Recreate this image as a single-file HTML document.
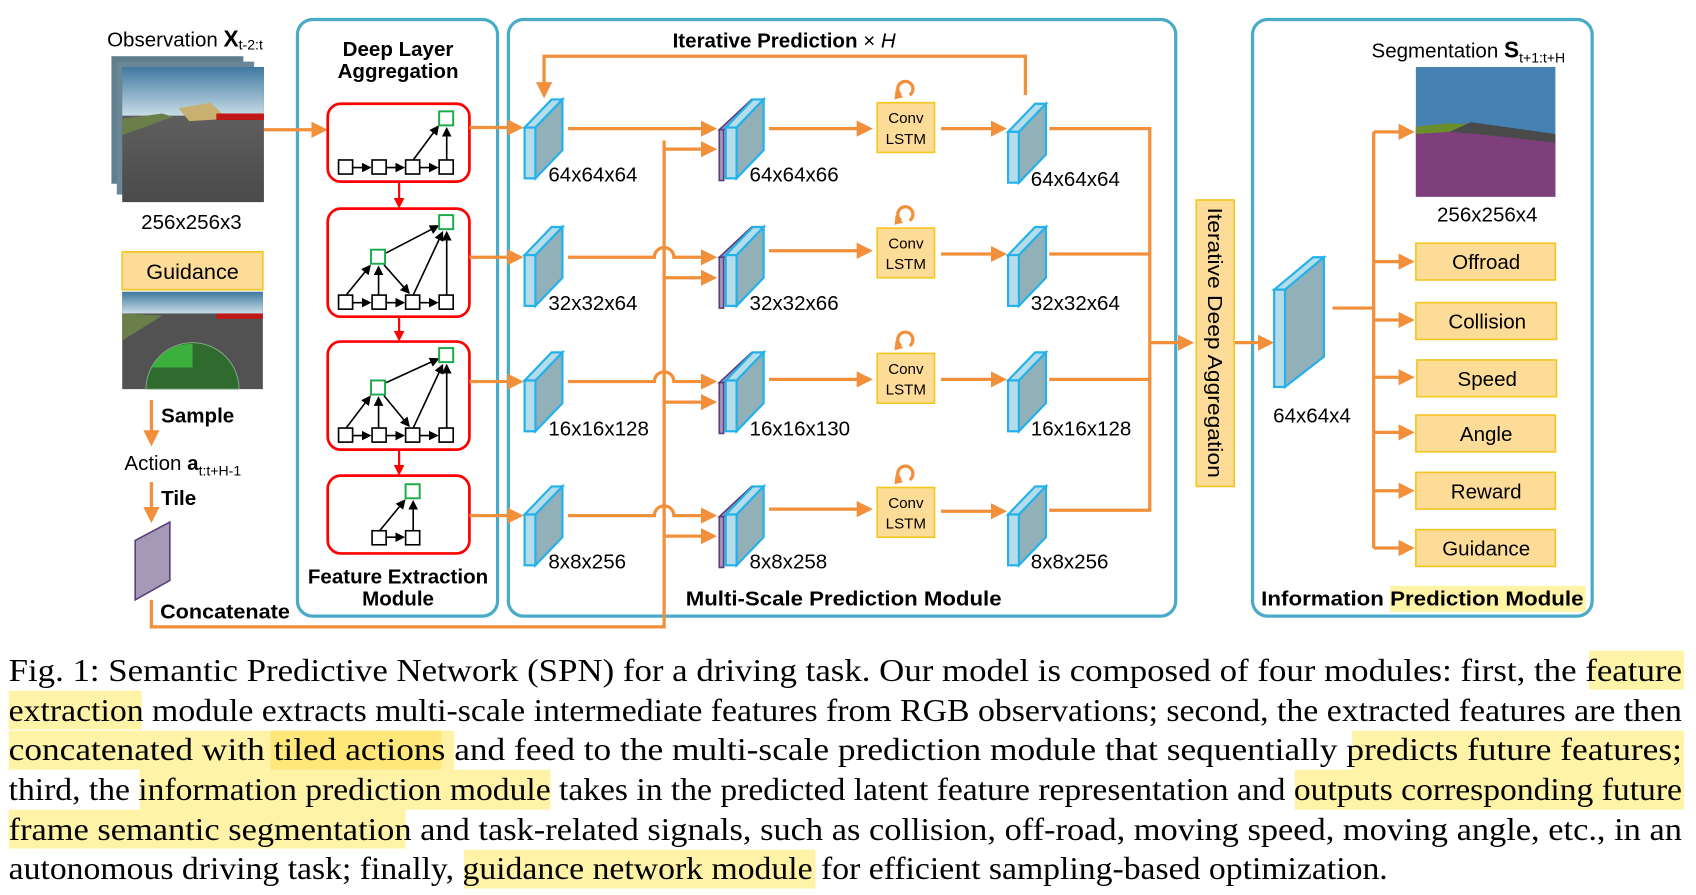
<!DOCTYPE html>
<html><head><meta charset="utf-8"><style>
html,body{margin:0;padding:0;background:#fff;}
svg{display:block;}
.s{font-family:"Liberation Sans","DejaVu Sans",sans-serif;}
.b{font-weight:bold;}
.c{font-family:"Liberation Serif",serif;font-size:29px;fill:#000;}
</style></head><body>
<svg width="1696" height="895" viewBox="0 0 1568 828" preserveAspectRatio="none" xmlns="http://www.w3.org/2000/svg">
<defs>
<marker id="ao" markerWidth="5" markerHeight="5" refX="4" refY="2.5" orient="auto" markerUnits="strokeWidth"><path d="M0,0 L5,2.5 L0,5 z" fill="#f28f3b"/></marker>
<marker id="ar" markerWidth="5" markerHeight="5" refX="4" refY="2.5" orient="auto" markerUnits="strokeWidth"><path d="M0,0 L5,2.5 L0,5 z" fill="#ff0000"/></marker>
<marker id="ak" markerWidth="6" markerHeight="6" refX="5" refY="3" orient="auto" markerUnits="strokeWidth"><path d="M0,0 L6,3 L0,6 z" fill="#000"/></marker>
<linearGradient id="sky" x1="0" y1="0" x2="0" y2="1"><stop offset="0" stop-color="#3f79a0"/><stop offset="1" stop-color="#c8dce6"/></linearGradient>
<linearGradient id="road" x1="0" y1="0" x2="0" y2="1"><stop offset="0" stop-color="#6a6a6a"/><stop offset="1" stop-color="#4a4a4a"/></linearGradient>
<g id="fm">
<polygon points="0,26 25,0 35,0 10,26" fill="#b6dcea" stroke="#22b1ea" stroke-width="2"/>
<polygon points="10,26 35,0 35,47 10,73" fill="#92b0b8" stroke="#22b1ea" stroke-width="2"/>
<rect x="0" y="26" width="10" height="47" fill="#b6dcea" stroke="#22b1ea" stroke-width="2"/>
</g>
<g id="fm2">
<polygon points="0,28 30,0 34,0 4,28" fill="#a896c0" stroke="#5a3d7a" stroke-width="1.5"/>
<rect x="0" y="28" width="4" height="47" fill="#a896c0" stroke="#5a3d7a" stroke-width="1.5"/>
<g transform="translate(6,0)"><use href="#fm"/></g>
</g>
<g id="lstm">
<rect x="0" y="0" width="53" height="46" fill="#fddc98" stroke="#f5c520" stroke-width="1.5"/>
<text x="26.5" y="19" font-size="14" text-anchor="middle" class="s">Conv</text>
<text x="26.5" y="38" font-size="14" text-anchor="middle" class="s">LSTM</text>
<path d="M22,-7 A7,7 0 1 1 30,-7" fill="none" stroke="#f28f3b" stroke-width="3"/>
<path d="M17,-12 L24,-5 L16,-3 z" fill="#f28f3b"/>
</g>
</defs>

<g fill="none" stroke="#4aabc8" stroke-width="3">
<rect x="275" y="18" width="185" height="552" rx="14"/>
<rect x="470" y="18" width="617" height="552" rx="14"/>
<rect x="1158" y="18" width="314" height="552" rx="14"/>
</g>

<text x="99" y="43" font-size="19" class="s">Observation <tspan class="b" font-size="21">X</tspan><tspan font-size="13" dy="3">t-2:t</tspan></text>
<rect x="103" y="52" width="122" height="118" fill="#5f7f8f"/>
<rect x="108" y="57" width="127" height="123" fill="#6b8797"/>
<rect x="113" y="62" width="131" height="125" fill="url(#road)"/>
<rect x="113" y="62" width="131" height="45" fill="url(#sky)"/>
<polygon points="113,110 150,105 160,108 113,125" fill="#6b7f4a"/>
<polygon points="165,100 195,95 210,110 175,112" fill="#c8b070"/>
<rect x="200" y="105" width="44" height="6" fill="#c01818"/>
<text x="177" y="212" font-size="19" text-anchor="middle" class="s">256x256x3</text>
<rect x="113" y="233" width="130" height="35" fill="#fddc98" stroke="#f5c520" stroke-width="1.5"/>
<text x="178" y="258" font-size="20" text-anchor="middle" class="s">Guidance</text>
<rect x="113" y="270" width="130" height="90" fill="#525252"/>
<rect x="113" y="270" width="130" height="20" fill="url(#sky)"/>
<polygon points="113,290 150,292 113,315" fill="#6b7f4a"/>
<rect x="200" y="290" width="43" height="5" fill="#c01818"/>
<path d="M135,360 A43,43 0 0 1 221,360 z" fill="#2f6a2f" stroke="#8fb08f" stroke-width="0.8"/>
<path d="M140,340 A43,43 0 0 1 178,318 L178,340 z" fill="#3cb03c"/>
<line x1="140" y1="370" x2="140" y2="410" stroke="#f28f3b" stroke-width="3" marker-end="url(#ao)"/>
<text x="149" y="391" font-size="19" class="s b">Sample</text>
<text x="115" y="435" font-size="19" class="s">Action <tspan class="b">a</tspan><tspan font-size="13" dy="5">t:t+H-1</tspan></text>
<line x1="140" y1="446" x2="140" y2="481" stroke="#f28f3b" stroke-width="3" marker-end="url(#ao)"/>
<text x="149" y="467" font-size="19" class="s b">Tile</text>
<polygon points="125,500 157,483 157,537 125,555" fill="#a49ab8" stroke="#5a3d7a" stroke-width="1.5"/>
<text x="148" y="572" font-size="19" class="s b" textLength="120" lengthAdjust="spacingAndGlyphs">Concatenate</text>
<polyline points="140,555 140,580 614,580 614,130" fill="none" stroke="#f28f3b" stroke-width="3"/>
<line x1="244" y1="120" x2="300" y2="120" stroke="#f28f3b" stroke-width="3" marker-end="url(#ao)"/>

<text x="368" y="52" font-size="19" text-anchor="middle" class="s b">Deep Layer</text>
<text x="368" y="72" font-size="19" text-anchor="middle" class="s b">Aggregation</text>
<g fill="none" stroke="#ff0000" stroke-width="2.5">
<rect x="303" y="96" width="131" height="72" rx="12"/>
<rect x="303" y="193" width="131" height="100" rx="12"/>
<rect x="303" y="316" width="131" height="100" rx="12"/>
<rect x="303" y="440" width="131" height="72" rx="12"/>
</g>
<g stroke="#ff0000" stroke-width="2">
<line x1="369" y1="168" x2="369" y2="191" marker-end="url(#ar)"/>
<line x1="369" y1="293" x2="369" y2="314" marker-end="url(#ar)"/>
<line x1="369" y1="416" x2="369" y2="438" marker-end="url(#ar)"/>
</g>
<g stroke="#000" stroke-width="1.5" fill="#fff">
<rect x="313" y="148" width="13" height="13"/><rect x="344" y="148" width="13" height="13"/><rect x="375" y="148" width="13" height="13"/><rect x="406" y="148" width="13" height="13"/>
<line x1="326" y1="155" x2="342" y2="155" marker-end="url(#ak)"/><line x1="357" y1="155" x2="373" y2="155" marker-end="url(#ak)"/><line x1="388" y1="155" x2="404" y2="155" marker-end="url(#ak)"/>
<line x1="382" y1="148" x2="405" y2="117" marker-end="url(#ak)"/><line x1="413" y1="148" x2="413" y2="119" marker-end="url(#ak)"/>
<rect x="313" y="273" width="13" height="13"/><rect x="344" y="273" width="13" height="13"/><rect x="375" y="273" width="13" height="13"/><rect x="406" y="273" width="13" height="13"/>
<line x1="326" y1="280" x2="342" y2="280" marker-end="url(#ak)"/><line x1="357" y1="280" x2="373" y2="280" marker-end="url(#ak)"/><line x1="388" y1="280" x2="404" y2="280" marker-end="url(#ak)"/>
<line x1="320" y1="273" x2="342" y2="246" marker-end="url(#ak)"/><line x1="350" y1="273" x2="350" y2="247" marker-end="url(#ak)"/><line x1="355" y1="245" x2="378" y2="271" marker-end="url(#ak)"/>
<line x1="357" y1="234" x2="405" y2="209" marker-end="url(#ak)"/><line x1="382" y1="273" x2="409" y2="215" marker-end="url(#ak)"/><line x1="413" y1="273" x2="413" y2="215" marker-end="url(#ak)"/>
<rect x="313" y="396" width="13" height="13"/><rect x="344" y="396" width="13" height="13"/><rect x="375" y="396" width="13" height="13"/><rect x="406" y="396" width="13" height="13"/>
<line x1="326" y1="403" x2="342" y2="403" marker-end="url(#ak)"/><line x1="357" y1="403" x2="373" y2="403" marker-end="url(#ak)"/><line x1="388" y1="403" x2="404" y2="403" marker-end="url(#ak)"/>
<line x1="320" y1="396" x2="342" y2="367" marker-end="url(#ak)"/><line x1="350" y1="396" x2="350" y2="368" marker-end="url(#ak)"/><line x1="355" y1="366" x2="378" y2="394" marker-end="url(#ak)"/>
<line x1="357" y1="354" x2="405" y2="332" marker-end="url(#ak)"/><line x1="382" y1="396" x2="409" y2="338" marker-end="url(#ak)"/><line x1="413" y1="396" x2="413" y2="338" marker-end="url(#ak)"/>
<rect x="344" y="491" width="13" height="13"/><rect x="375" y="491" width="13" height="13"/>
<line x1="357" y1="497" x2="373" y2="497" marker-end="url(#ak)"/>
<line x1="351" y1="491" x2="374" y2="463" marker-end="url(#ak)"/><line x1="382" y1="491" x2="382" y2="464" marker-end="url(#ak)"/>
</g>
<g fill="#fff" stroke="#1aaa4a" stroke-width="1.8">
<rect x="406" y="103" width="13" height="13"/>
<rect x="406" y="199" width="13" height="13"/><rect x="343" y="231" width="13" height="13"/>
<rect x="406" y="322" width="13" height="13"/><rect x="343" y="352" width="13" height="13"/>
<rect x="375" y="448" width="13" height="13"/>
</g>
<text x="368" y="540" font-size="19" text-anchor="middle" class="s b">Feature Extraction</text>
<text x="368" y="560" font-size="19" text-anchor="middle" class="s b">Module</text>

<text x="725" y="44" font-size="19" text-anchor="middle" class="s b">Iterative Prediction <tspan font-weight="normal">× <tspan font-style="italic">H</tspan></tspan></text>
<polyline points="948,88 948,52 503,52 503,88" fill="none" stroke="#f28f3b" stroke-width="3" marker-end="url(#ao)"/>
<g stroke="#f28f3b" stroke-width="3" fill="none">
<line x1="434" y1="118" x2="481" y2="118" marker-end="url(#ao)"/>
<line x1="434" y1="238" x2="481" y2="238" marker-end="url(#ao)"/>
<line x1="434" y1="353" x2="481" y2="353" marker-end="url(#ao)"/>
<line x1="434" y1="477" x2="481" y2="477" marker-end="url(#ao)"/>
<line x1="525" y1="119" x2="660" y2="119" marker-end="url(#ao)"/>
<line x1="614" y1="138" x2="660" y2="138" marker-end="url(#ao)"/>
<path d="M525,238 L605,238 A9,9 0 0 1 623,238 L660,238" marker-end="url(#ao)"/>
<line x1="614" y1="257" x2="660" y2="257" marker-end="url(#ao)"/>
<path d="M525,353 L605,353 A9,9 0 0 1 623,353 L660,353" marker-end="url(#ao)"/>
<line x1="614" y1="372" x2="660" y2="372" marker-end="url(#ao)"/>
<path d="M525,477 L605,477 A9,9 0 0 1 623,477 L660,477" marker-end="url(#ao)"/>
<line x1="614" y1="496" x2="660" y2="496" marker-end="url(#ao)"/>
<line x1="711" y1="119" x2="804" y2="119" marker-end="url(#ao)"/>
<line x1="870" y1="119" x2="928" y2="119" marker-end="url(#ao)"/>
<line x1="711" y1="232" x2="804" y2="232" marker-end="url(#ao)"/>
<line x1="870" y1="235" x2="928" y2="235" marker-end="url(#ao)"/>
<line x1="711" y1="351" x2="804" y2="351" marker-end="url(#ao)"/>
<line x1="870" y1="351" x2="928" y2="351" marker-end="url(#ao)"/>
<line x1="711" y1="471" x2="804" y2="471" marker-end="url(#ao)"/>
<line x1="870" y1="473" x2="928" y2="473" marker-end="url(#ao)"/>
<polyline points="970,119 1063,119 1063,472 970,472"/>
<line x1="970" y1="235" x2="1063" y2="235"/>
<line x1="970" y1="351" x2="1063" y2="351"/>
<line x1="1063" y1="317" x2="1101" y2="317" marker-end="url(#ao)"/>
<line x1="1141" y1="317" x2="1175" y2="317" marker-end="url(#ao)"/>
</g>
<use href="#fm" x="485" y="92"/><use href="#fm" x="485" y="210"/><use href="#fm" x="485" y="326"/><use href="#fm" x="485" y="450"/>
<use href="#fm2" x="665" y="92"/><use href="#fm2" x="665" y="210"/><use href="#fm2" x="665" y="326"/><use href="#fm2" x="665" y="450"/>
<use href="#fm" x="932" y="96"/><use href="#fm" x="932" y="210"/><use href="#fm" x="932" y="326"/><use href="#fm" x="932" y="450"/>
<use href="#lstm" x="811" y="95"/><use href="#lstm" x="811" y="211"/><use href="#lstm" x="811" y="327"/><use href="#lstm" x="811" y="451"/>
<g font-size="19" class="s">
<text x="507" y="168">64x64x64</text><text x="693" y="168">64x64x66</text><text x="953" y="172">64x64x64</text>
<text x="507" y="287">32x32x64</text><text x="693" y="287">32x32x66</text><text x="953" y="287">32x32x64</text>
<text x="507" y="403">16x16x128</text><text x="693" y="403">16x16x130</text><text x="953" y="403">16x16x128</text>
<text x="507" y="526">8x8x256</text><text x="693" y="526">8x8x258</text><text x="953" y="526">8x8x256</text>
</g>
<text x="780" y="560" font-size="19" text-anchor="middle" class="s b" textLength="292" lengthAdjust="spacingAndGlyphs">Multi-Scale Prediction Module</text>
<rect x="1106" y="185" width="35" height="265" fill="#fddc98" stroke="#f5c520" stroke-width="1.5"/>
<text transform="translate(1117,192) rotate(90)" font-size="19" class="s" textLength="250" lengthAdjust="spacingAndGlyphs">Iterative Deep Aggregation</text>

<polygon points="1178,268 1214,238 1224,238 1188,268" fill="#b6dcea" stroke="#22b1ea" stroke-width="2"/>
<polygon points="1188,268 1224,238 1224,330 1188,358" fill="#92b0b8" stroke="#22b1ea" stroke-width="2"/>
<rect x="1178" y="268" width="10" height="90" fill="#b6dcea" stroke="#22b1ea" stroke-width="2"/>
<text x="1213" y="391" font-size="19" text-anchor="middle" class="s">64x64x4</text>
<text x="1268" y="53" font-size="19" class="s">Segmentation <tspan class="b" font-size="21">S</tspan><tspan font-size="13" dy="5">t+1:t+H</tspan></text>
<rect x="1309" y="62" width="129" height="120" fill="#4681b3"/>
<polygon points="1309,118 1340,117 1375,122 1438,128 1438,182 1309,182" fill="#7f3f7d"/>
<polygon points="1309,117 1340,114 1360,115 1340,122 1309,124" fill="#6a8f2a"/>
<polygon points="1340,122 1360,113 1438,124 1438,132 1375,125" fill="#4a4a4a"/>
<text x="1375" y="205" font-size="19" text-anchor="middle" class="s">256x256x4</text>
<g stroke="#f28f3b" stroke-width="3" fill="none">
<line x1="1232" y1="285" x2="1270" y2="285"/>
<line x1="1270" y1="122" x2="1270" y2="507"/>
<line x1="1270" y1="122" x2="1305" y2="122" marker-end="url(#ao)"/>
<line x1="1270" y1="242" x2="1305" y2="242" marker-end="url(#ao)"/>
<line x1="1270" y1="296" x2="1305" y2="296" marker-end="url(#ao)"/>
<line x1="1270" y1="349" x2="1305" y2="349" marker-end="url(#ao)"/>
<line x1="1270" y1="400" x2="1305" y2="400" marker-end="url(#ao)"/>
<line x1="1270" y1="454" x2="1305" y2="454" marker-end="url(#ao)"/>
<line x1="1270" y1="507" x2="1305" y2="507" marker-end="url(#ao)"/>
</g>
<g fill="#fddc98" stroke="#f5c520" stroke-width="1.5">
<rect x="1309" y="225" width="129" height="34"/><rect x="1309" y="280" width="130" height="34"/><rect x="1310" y="333" width="129" height="34"/>
<rect x="1309" y="384" width="129" height="34"/><rect x="1309" y="437" width="129" height="34"/><rect x="1309" y="490" width="129" height="34"/>
</g>
<g font-size="19" text-anchor="middle" class="s">
<text x="1374" y="249">Offroad</text><text x="1375" y="304">Collision</text><text x="1375" y="357">Speed</text>
<text x="1374" y="408">Angle</text><text x="1374" y="461">Reward</text><text x="1374" y="514">Guidance</text>
</g>
<rect x="1285" y="542" width="181" height="24" fill="#fff3a8"/>
<text x="1166" y="560" font-size="19" class="s b" textLength="298" lengthAdjust="spacingAndGlyphs">Information Prediction Module</text>

<g fill="#fff3a8">
<rect x="1469" y="602" width="88" height="36"/>
<rect x="8" y="639" width="123" height="36"/>
<rect x="8" y="676" width="412" height="36"/>
<rect x="1250" y="676" width="307" height="36"/>
<rect x="129" y="712" width="380" height="37"/>
<rect x="1197" y="712" width="360" height="37"/>
<rect x="8" y="749" width="367" height="36"/>
<rect x="429" y="786" width="325" height="36"/>
</g>
<rect x="250" y="676" width="158" height="36" fill="#ffe77a"/>
<g class="c">
<text x="8" y="630" textLength="1547" lengthAdjust="spacingAndGlyphs">Fig. 1: Semantic Predictive Network (SPN) for a driving task. Our model is composed of four modules: first, the feature</text>
<text x="8" y="667" textLength="1547" lengthAdjust="spacingAndGlyphs">extraction module extracts multi-scale intermediate features from RGB observations; second, the extracted features are then</text>
<text x="8" y="703" textLength="1547" lengthAdjust="spacingAndGlyphs">concatenated with tiled actions and feed to the multi-scale prediction module that sequentially predicts future features;</text>
<text x="8" y="740" textLength="1547" lengthAdjust="spacingAndGlyphs">third, the information prediction module takes in the predicted latent feature representation and outputs corresponding future</text>
<text x="8" y="777" textLength="1547" lengthAdjust="spacingAndGlyphs">frame semantic segmentation and task-related signals, such as collision, off-road, moving speed, moving angle, etc., in an</text>
<text x="8" y="813" textLength="1275" lengthAdjust="spacingAndGlyphs">autonomous driving task; finally, guidance network module for efficient sampling-based optimization.</text>
</g>
</svg>
</body></html>
